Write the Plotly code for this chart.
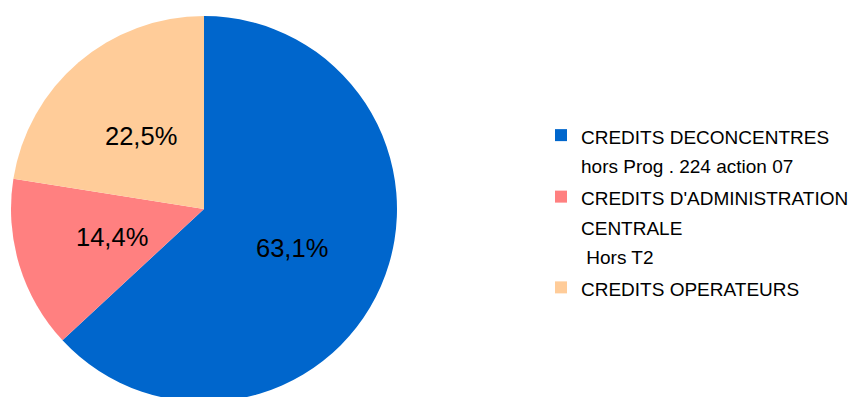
import math
import plotly.graph_objects as go

# Budget breakdown by credit type (shares in %)
categories = [
    ["CREDITS DECONCENTRES", "hors Prog . 224 action 07"],
    ["CREDITS D'ADMINISTRATION", "CENTRALE", "\u00a0Hors T2"],
    ["CREDITS OPERATEURS"],
]
shares = [63.1, 14.4, 22.5]
colors = ["#0066CC", "#FF8080", "#FFCC99"]

W, H = 857, 402
FONT = "Liberation Sans, Arial, sans-serif"

# pie geometry in pixels
PIE_L, PIE_R, PIE_T = 11, 397, 16
cx = (PIE_L + PIE_R) / 2
radius = (PIE_R - PIE_L) / 2
cy = PIE_T + radius


def legend_label(lines):
    # larger legend font sets the line pitch, inner span sets glyph size
    return "<br>".join(f"<span style='font-size:19px'>{ln}</span>" for ln in lines)


labels = [legend_label(c) for c in categories]

fig = go.Figure(
    go.Pie(
        labels=labels,
        values=shares,
        sort=False,
        direction="clockwise",
        rotation=0,
        marker=dict(colors=colors, line=dict(width=0)),
        textinfo="none",
        hoverinfo="skip",
        domain=dict(x=[PIE_L / W, PIE_R / W], y=[0, 1 - PIE_T / H]),
    )
)

# percentage labels at half radius along each slice's mid-angle
total = sum(shares)
start = 0.0
for v in shares:
    mid = (start + v / 2) / total * 2 * math.pi
    start += v
    px = cx + 0.5 * radius * math.sin(mid)
    py = cy - 0.5 * radius * math.cos(mid)
    fig.add_annotation(
        x=px / W, y=1 - py / H, xref="paper", yref="paper",
        text=f"{v / total * 100:.1f}%".replace(".", ","),
        showarrow=False, xanchor="center", yanchor="middle",
        font=dict(family=FONT, size=25.5, color="black"),
    )

fig.update_layout(
    width=W,
    height=H,
    margin=dict(l=0, r=0, t=0, b=0),
    paper_bgcolor="white",
    plot_bgcolor="white",
    showlegend=True,
    legend=dict(
        x=541 / W,
        xanchor="left",
        y=1 - 114 / H,
        yanchor="top",
        valign="top",
        font=dict(family=FONT, size=22.5, color="black"),
        bgcolor="rgba(0,0,0,0)",
        borderwidth=0,
    ),
)

fig.write_html("out.html")
